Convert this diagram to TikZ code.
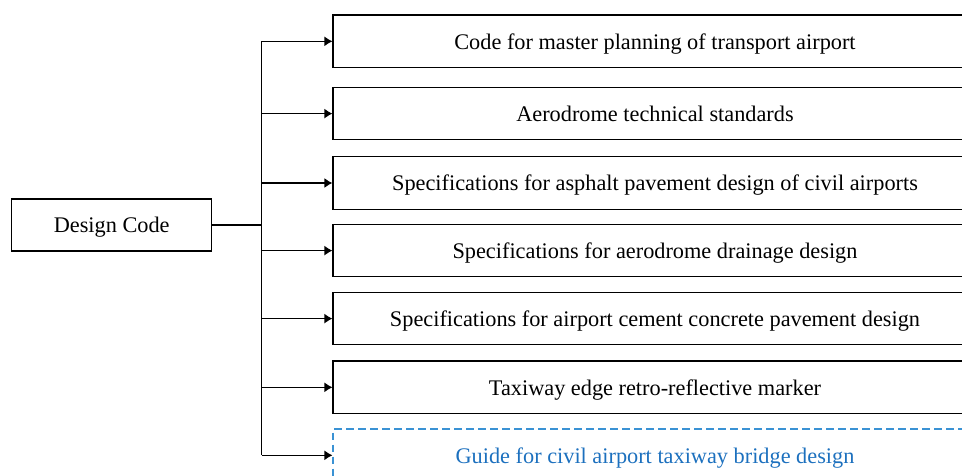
\documentclass[tikz,border=0pt]{standalone}
\usepackage{fontspec}
\setmainfont{Liberation Serif}
\usetikzlibrary{arrows.meta}
\usetikzlibrary{positioning}
\definecolor{guideblue}{RGB}{58,146,212}
\definecolor{guidetext}{RGB}{28,112,190}

\begin{document}
\begin{tikzpicture}[%
      x=1pt, y=-1pt,
      every node/.style={rectangle, draw, line width=1.2pt, inner sep=0pt, font=\fontsize{22.3}{26}\selectfont},
      codebox/.style={minimum width=644pt, minimum height=52.5pt, text depth=-1.5pt},
      node distance=14.8pt, >={Latex[length=8pt,width=10pt]},
      line width=1.2pt
    ]
    \useasboundingbox (0,0) rectangle (962,475);
    \clip (0,0) rectangle (962,475);
    \node [minimum width=200pt, minimum height=52pt, text depth=-1.5pt] (design) at (111.7,225) {Design Code};
    \node [codebox] (plan) at (655,41.3) {Code for master planning of transport airport};
    \node [codebox, below=18.6pt of plan] (tech) {Aerodrome technical standards};
    \node [codebox, below=15.7pt of tech] (asphalt) {Specifications for asphalt pavement design of civil airports};
    \node [codebox, below=13.9pt of asphalt] (drain) {Specifications for aerodrome drainage design};
    \node [codebox, below=14.3pt of drain] (cement) {Specifications for airport cement concrete pavement design};
    \node [codebox, below=15pt of cement] (marker) {Taxiway edge retro-reflective marker};
    \node [codebox, below=14.3pt of marker, draw=guideblue, dash pattern=on 7.5pt off 4.5pt, text=guidetext] (bridge) {Guide for civil airport taxiway bridge design};
    \coordinate (trunk) at (261.7,0);
    \draw (design.east) -- (design.east -| trunk);
    \draw (trunk |- plan) -- (trunk |- bridge);
    \foreach \n in {plan,tech,asphalt,drain,cement,marker,bridge}
      \draw [->] (trunk |- \n) -- (\n.west);
  \end{tikzpicture}
\end{document}
